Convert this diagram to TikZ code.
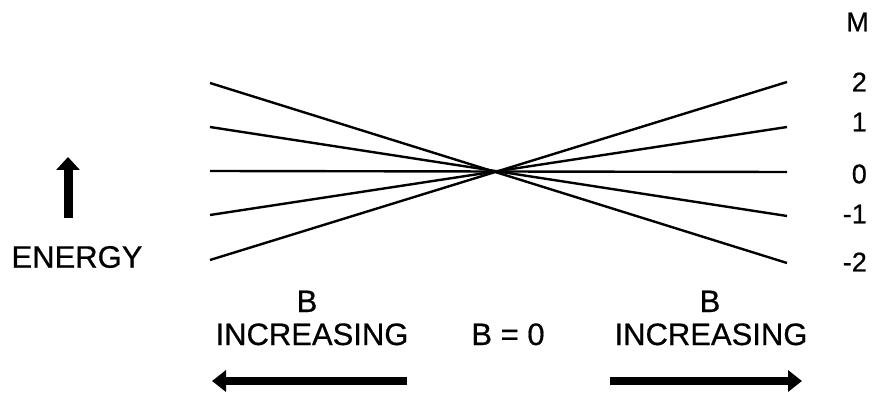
\documentclass[tikz,border=0pt]{standalone}
\usepackage{fontspec}
\setmainfont{Liberation Sans}[UprightFeatures={FakeBold=0.6}]
\usepackage{tikz}
\usetikzlibrary{arrows.meta}
\tikzset{
    level/.style={line width=2.4pt, black},
    fatarrow/.style={line width=7.5pt, -{Triangle[width=21pt,length=14pt]}},
    uparrow/.style={line width=9pt, -{Triangle[width=23pt,length=13pt]}},
    lbl/.style={font=\fontsize{31}{34}\selectfont, inner sep=0pt},
    mlbl/.style={font=\fontsize{27}{30}\selectfont, inner sep=0pt, anchor=east},
}

\begin{document}
\begin{tikzpicture}[x=1pt, y=1pt]
    \useasboundingbox (0,0) rectangle (873,394);
    % Zeeman sublevels: M / left end / right end / label height
    \foreach \m/\yl/\yr/\yt in {2/134/312/312, 1/179/267/272, 0/223/222/220, -1/267/178/180, -2/311/131/132} {
        \coordinate (L\m) at (210,\yl);
        \coordinate (R\m) at (787,\yr);
        \draw[level] (L\m) -- (R\m);
        \node[mlbl] (m\m) at (867,\yt) {\m};
    }
    \node[mlbl] (mhead) at (869,372) {M};
    % energy axis
    \coordinate (etail) at (68,176);
    \coordinate (etip) at (68,237);
    \draw[uparrow] (etail) -- (etip);
    \node[lbl] (energy) at (77,137) {ENERGY};
    % field labels, all on common baselines
    \node[lbl, anchor=base] (bleft) at (307,82) {B};
    \node[lbl, anchor=base] (incleft) at (312,49) {INCREASING};
    \node[lbl, anchor=base] (bzero) at (508,49) {B = 0};
    \node[lbl, anchor=base] (bright) at (710,82) {B};
    \node[lbl, anchor=base] (incright) at (711,49) {INCREASING};
    \coordinate (la) at (407,13);
    \coordinate (lb) at (212,13);
    \coordinate (ra) at (610,13);
    \coordinate (rb) at (802,13);
    \draw[fatarrow] (la) -- (lb);
    \draw[fatarrow] (ra) -- (rb);
\end{tikzpicture}
\end{document}
